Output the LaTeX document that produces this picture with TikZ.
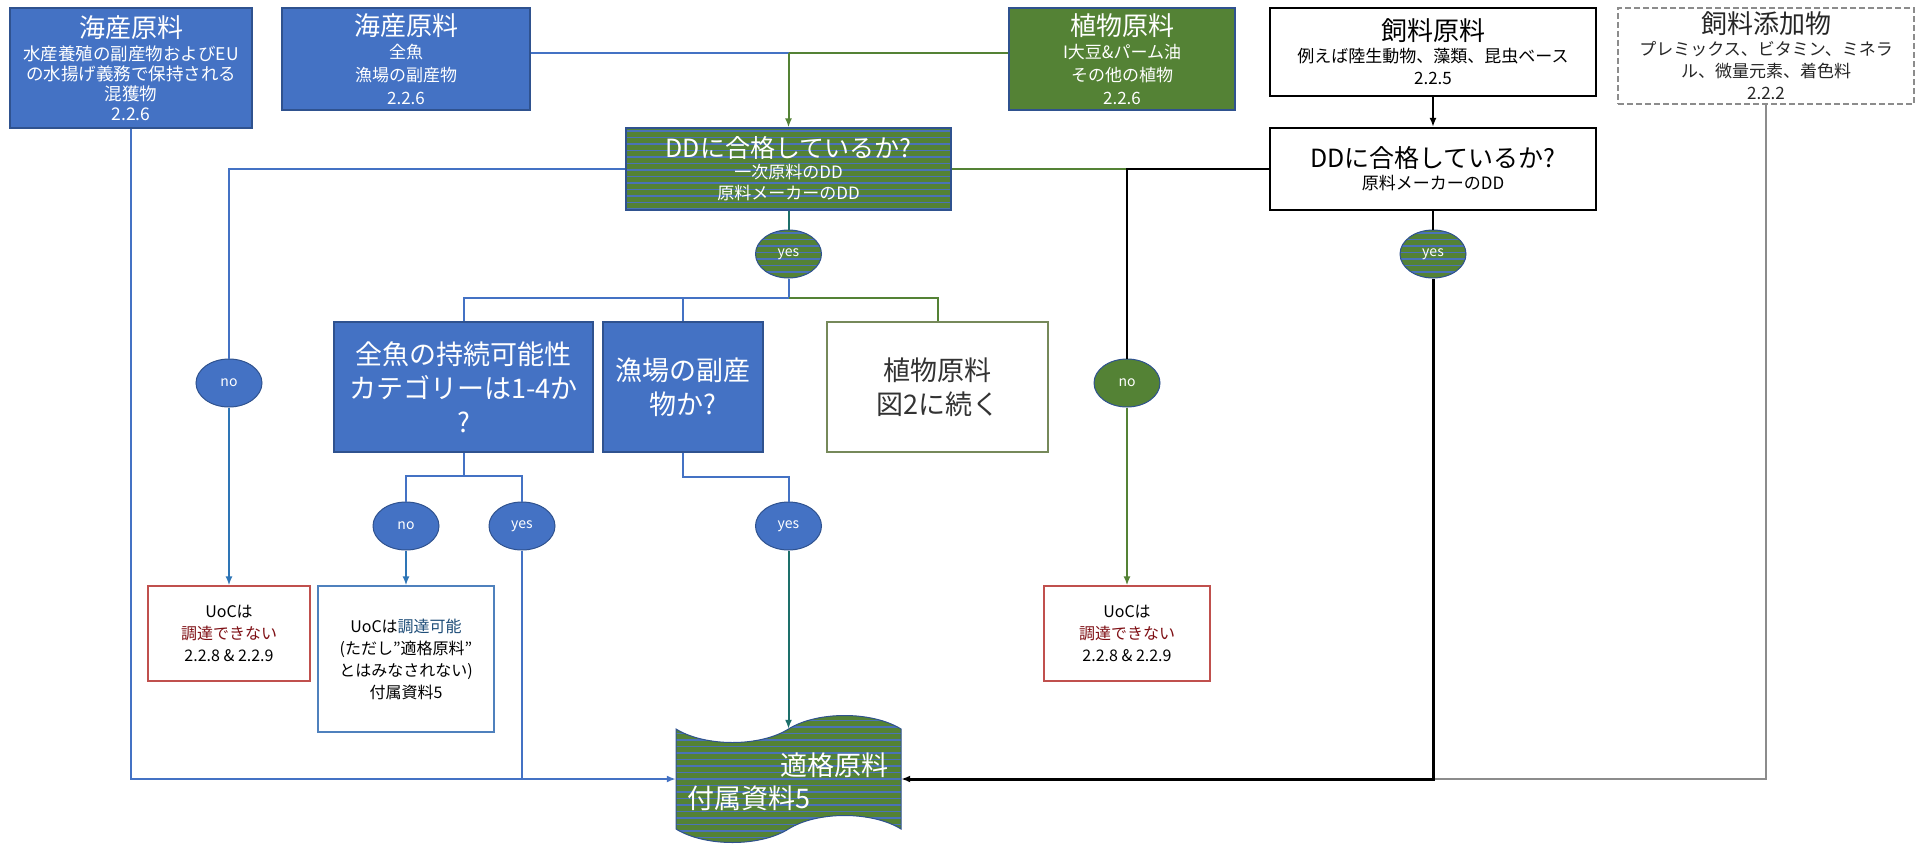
\documentclass[tikz,border=0pt]{standalone}
\usepackage{fontspec}
\setmainfont{Noto Sans CJK JP}
\usetikzlibrary{arrows.meta,shapes.geometric}
\definecolor{bfill}{HTML}{4472C4}
\definecolor{bborder}{HTML}{2F528F}
\definecolor{gfill}{HTML}{548235}
\definecolor{sblue}{HTML}{4A72B8}
\definecolor{tealc}{HTML}{1D6F6A}
\definecolor{rborder}{HTML}{C0504D}
\definecolor{dred}{HTML}{7F1015}
\definecolor{dblue}{HTML}{1F4E79}
\definecolor{uocblue}{HTML}{4F81BD}
\definecolor{olivec}{HTML}{76895A}
\definecolor{glinec}{HTML}{8C8C8C}
\definecolor{nblue}{HTML}{2E75B6}
\newcommand\ftitle{\fontsize{26}{30}\selectfont}
\newcommand\fsubA{\fontsize{17.5}{20}\selectfont}
\newcommand\fsubB{\fontsize{17}{23}\selectfont}
\newcommand\fsubC{\fontsize{17}{22}\selectfont}
\newcommand\fbig{\fontsize{27}{34}\selectfont}
\newcommand\fuoc{\fontsize{16}{22}\selectfont}
\tikzset{
  stripes/.style={fill=gfill, path picture={
    \foreach \k [evaluate=\k as \dy using -\k*6.5-3] in {0,...,30}{
      \draw[sblue, line width=1.8pt] ([yshift=\dy pt]path picture bounding box.north west) -- ([yshift=\dy pt]path picture bounding box.north east);
    }}},
  box/.style={rectangle, inner sep=2pt, align=center, line width=1.2pt},
  bluebox/.style={box, fill=bfill, draw=bborder, text=white},
  greenbox/.style={box, fill=gfill, draw=bborder, text=white},
  stripebox/.style={box, stripes, draw=bborder, text=white},
  wbox/.style={box, fill=white, draw=black, line width=2.2pt, text=black},
  dbox/.style={box, fill=white, draw=glinec, dash pattern=on 6pt off 3pt, line width=1.5pt, text=black!85},
  uocbox/.style={box, fill=white, line width=1.2pt, text=black, font=\fuoc},
  oval/.style={ellipse, minimum width=66pt, minimum height=48pt, inner sep=0pt, line width=1pt, draw=bborder, text=white, font=\fontsize{14}{16}\selectfont},
  blueoval/.style={oval, fill=bfill},
  greenoval/.style={oval, fill=gfill},
  stripeoval/.style={oval, stripes},
  ln/.style={line width=2pt},
  arr/.style={-{Latex[length=9pt,width=7pt]}}
}
\begin{document}
\begin{tikzpicture}[x=1pt,y=-1pt]
\useasboundingbox[fill=white] (0,0) rectangle (1921,843);

% top row
\node[bluebox, minimum width=242pt, minimum height=120pt, font=\fsubA] (A) at (131,68)
  {{\ftitle 海産原料}\\[3pt] 水産養殖の副産物およびEU\\ の水揚げ義務で保持される\\ 混獲物\\ 2.2.6};
\node[bluebox, minimum width=248pt, minimum height=102pt, font=\fsubB] (B) at (406,59)
  {{\ftitle 海産原料}\\ 全魚\\ 漁場の副産物\\ 2.2.6};
\node[greenbox, minimum width=226pt, minimum height=102pt, font=\fsubB] (P) at (1122,59)
  {{\ftitle 植物原料}\\ I大豆\&パーム油\\ その他の植物\\ 2.2.6};
\node[wbox, minimum width=326pt, minimum height=88pt, font=\fsubC] (Fe) at (1433,52)
  {{\ftitle 飼料原料}\\ 例えば陸生動物、藻類、昆虫ベース\\ 2.2.5};
\node[dbox, minimum width=296pt, minimum height=96pt, font=\fsubC] (Ad) at (1766,56)
  {{\ftitle 飼料添加物}\\ プレミックス、ビタミン、ミネラ\\ ル、微量元素、着色料\\ 2.2.2};

% DD boxes
\node[stripebox, minimum width=325pt, minimum height=82pt, font=\fontsize{17}{21}\selectfont] (DD) at (788.5,169)
  {{\fontsize{25}{30}\selectfont DDに合格しているか?}\\ 一次原料のDD\\ 原料メーカーのDD};
\node[wbox, minimum width=326pt, minimum height=82pt, font=\fontsize{17}{22}\selectfont] (FDD) at (1433,169)
  {{\fontsize{25}{30}\selectfont DDに合格しているか?}\\ 原料メーカーのDD};

% ovals
\node[stripeoval] (Y1) at (788.5,254) {yes};
\node[stripeoval] (YFD) at (1433,254) {yes};
\node[blueoval] (noL) at (229,383) {no};
\node[greenoval] (noR) at (1127,383) {no};
\node[blueoval] (NF) at (406,526) {no};
\node[blueoval] (YF) at (522,526) {yes};
\node[blueoval] (Y2) at (788.5,526) {yes};

% middle boxes
\node[bluebox, minimum width=259pt, minimum height=130pt, font=\fbig] (F) at (463.5,387)
  {全魚の持続可能性\\ カテゴリーは1-4か\\ ?};
\node[bluebox, minimum width=160pt, minimum height=130pt, font=\fbig] (BP) at (683,387)
  {漁場の副産\\ 物か?};
\node[box, fill=white, draw=olivec, minimum width=221pt, minimum height=130pt, font=\fbig, text=black!80] (P2) at (937.5,387)
  {植物原料\\ 図2に続く};

% UoC boxes
\node[uocbox, draw=rborder, minimum width=162pt, minimum height=95pt] (U1) at (229,633.5)
  {UoCは\\ \textcolor{dred}{調達できない}\\ 2.2.8 \& 2.2.9};
\node[uocbox, draw=uocblue, minimum width=176pt, minimum height=146pt] (U2) at (406,659)
  {UoCは\textcolor{dblue}{調達可能}\\ (ただし"適格原料"\\ とはみなされない)\\ 付属資料5};
\node[uocbox, draw=rborder, minimum width=166pt, minimum height=95pt] (U3) at (1127,633.5)
  {UoCは\\ \textcolor{dred}{調達できない}\\ 2.2.8 \& 2.2.9};

% tape
\path[stripes, draw=bborder, line width=1pt] (676,729) .. controls (705,747) and (760,747) .. (788.5,729) .. controls (817,711) and (872,711) .. (901,729) -- (901,829) .. controls (872,811) and (817,811) .. (788.5,829) .. controls (760,847) and (705,847) .. (676,829) -- cycle;
\node[minimum width=225pt, minimum height=100pt, inner sep=0pt] (T) at (788.5,779) {};
\node[text=white, font=\fbig, inner sep=0pt] (T1) at (834,765) {適格原料};
\node[text=white, font=\fbig, inner sep=0pt] (T2) at (749,798) {付属資料5};

% connectors
\coordinate (j1) at (788.5,53);
\draw[ln, bfill] (j1 -| B.east) -- (j1);
\draw[ln, gfill] (j1 -| P.west) -- (j1);
\draw[ln, gfill, arr] (j1) -- (DD.north);

\draw[ln, bfill] (DD.west) -- (DD.west -| noL.north) -- (noL.north);
\draw[ln, nblue, arr] (noL.south) -- (U1.north);

\coordinate (j2) at (1127,169);
\draw[ln, gfill] (DD.east) -- (j2);
\draw[ln, black] (FDD.west) -- (j2) -- (noR.north);
\draw[ln, gfill, arr] (noR.south) -- (U3.north);

\draw[ln, tealc] (DD.south) -- (Y1.north);
\coordinate (br) at (788.5,298);
\draw[ln, bfill] (Y1.south) -- (br) -- (br -| F.north) -- (F.north);
\draw[ln, bfill] (br -| BP.north) -- (BP.north);
\draw[ln, gfill] (br) -- (br -| P2.north) -- (P2.north);

\coordinate (br2) at (463.5,476);
\draw[ln, bfill] (F.south) -- (br2);
\draw[ln, bfill] (NF.north) -- (NF.north |- br2) -- (YF.north |- br2) -- (YF.north);
\draw[ln, nblue, arr] (NF.south) -- (U2.north);
\draw[ln, bfill] (YF.south) -- (YF.south |- T.west);
\draw[ln, bfill, arr] (A.south) -- (A.south |- T.west) -- (T.west);

\coordinate (br3) at (683,477);
\draw[ln, bfill] (BP.south) -- (BP.south |- br3) -- (Y2.north |- br3) -- (Y2.north);
\draw[ln, tealc, arr] (Y2.south) -- (T.north);

\draw[glinec, line width=2pt] (Ad.south) -- (Ad.south |- T.east) -- (YFD.south |- T.east);
\draw[black, line width=2.5pt, arr] (Fe.south) -- (FDD.north);
\draw[black, line width=2.5pt] (FDD.south) -- (YFD.north);
\draw[black, line width=3pt, arr] (YFD.south) -- (YFD.south |- T.east) -- (T.east);
\end{tikzpicture}
\end{document}
